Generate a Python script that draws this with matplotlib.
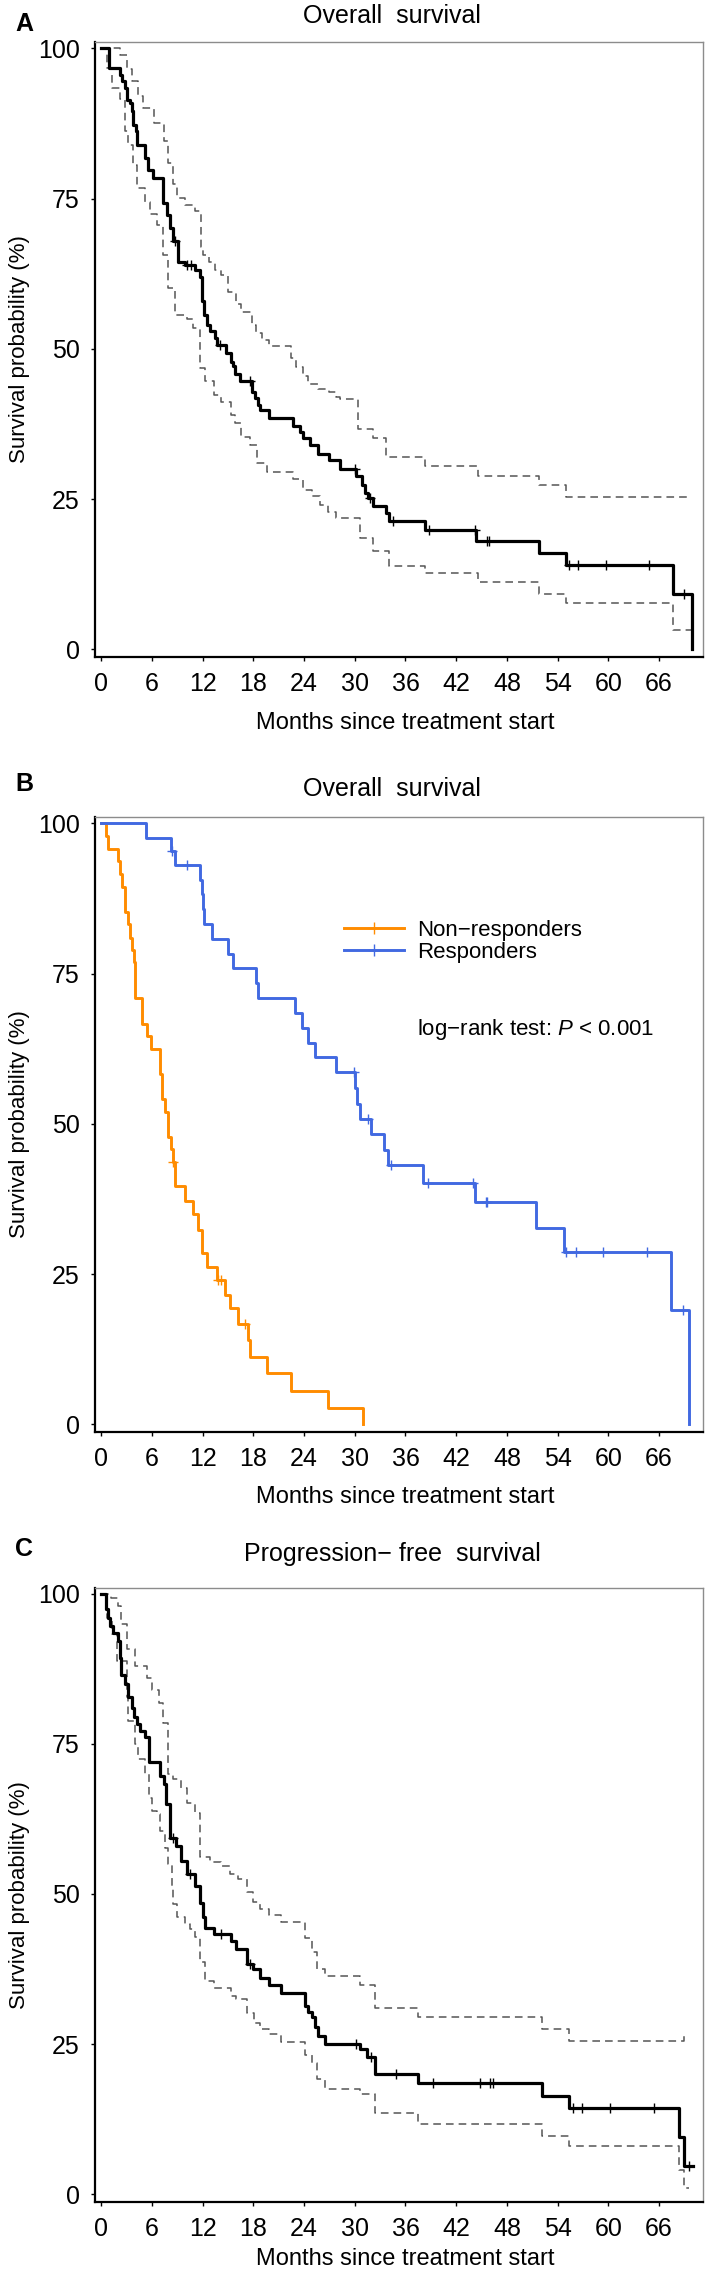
import numpy as np
import matplotlib
matplotlib.use("Agg")
import matplotlib.pyplot as plt
from matplotlib.lines import Line2D

plt.rcParams['font.family'] = ['Liberation Sans', 'DejaVu Sans']
plt.rcParams['mathtext.fontset'] = 'custom'
plt.rcParams['mathtext.rm'] = 'Liberation Sans'
plt.rcParams['mathtext.it'] = 'Liberation Sans:italic'

# ---- panel A: overall survival, all patients (months, % surviving) ----
a_t = [0, 0.93, 2.23, 2.51, 2.82, 3.02, 3.41, 3.61, 3.81, 4.08, 4.20, 5.18, 5.58, 6.17, 7.35,
       7.74, 8.14, 8.53, 9.04, 9.91, 11.09, 11.68, 11.88, 11.96, 12.19, 12.47, 12.86, 13.45, 13.65,
       14.8, 15.4, 15.6, 15.8, 16.4, 17.8, 18.2, 18.6, 18.8, 19.9, 22.7, 23.5, 23.9, 24.7, 25.7,
       27.0, 28.2, 30.2, 30.8, 31.2, 31.6, 32.2, 33.7, 34.1, 38.3, 44.4, 51.8, 55.0, 67.7, 69.9]
a_s = [100, 96.7, 95.6, 94.5, 93.4, 91.4, 90.9, 89.5, 87.3, 86.2, 83.9, 81.7, 79.8, 78.4, 74.2,
       72.3, 70.1, 67.9, 64.5, 64.0, 63.2, 62.0, 60.1, 57.9, 55.7, 54.0, 52.9, 51.8, 50.7,
       49.3, 47.9, 47.1, 45.9, 44.6, 42.9, 41.8, 40.7, 39.8, 38.5, 37.1, 36.2, 35.1, 34.0, 32.6,
       31.5, 30.1, 28.8, 27.4, 26.0, 25.2, 23.8, 22.7, 21.3, 19.8, 18.1, 16.0, 14.1, 9.2, 0]
a_up_t = [0, 2.2, 3.0, 3.7, 4.3, 5.0, 6.2, 7.4, 7.9, 8.5, 9.0, 9.9, 11.1, 11.8, 12.0, 12.7, 13.5,
          14.2, 15.0, 16.0, 16.6, 17.8, 18.3, 19.0, 19.9, 22.5, 23.1, 23.9, 24.5, 25.7, 27.0, 27.8,
          28.2, 30.4, 32.2, 33.7, 38.3, 44.6, 51.8, 55.0, 69.6]
a_up_s = [100, 98.9, 96.5, 94.5, 92.0, 90.0, 87.5, 84.5, 81.0, 77.5, 75.1, 73.9, 73.0, 67.0, 65.6,
          64.5, 63.2, 62.3, 59.5, 57.5, 56.2, 54.0, 52.6, 51.5, 50.4, 48.5, 47.0, 45.5, 44.2, 43.3,
          42.9, 42.0, 41.6, 36.6, 35.1, 32.1, 30.6, 28.9, 27.3, 25.3, 25.3]
a_lo_t = [0, 0.66, 1.25, 2.2, 2.8, 3.2, 3.8, 4.2, 5.2, 5.8, 6.6, 7.35, 7.9, 8.7, 10.1, 10.9, 11.7,
          12.3, 13.3, 14.2, 15.4, 15.8, 16.6, 17.6, 18.4, 19.6, 22.7, 23.9, 24.9, 25.9, 26.8, 27.8,
          30.6, 32.2, 34.1, 38.3, 44.6, 51.8, 55.0, 67.7, 69.8]
a_lo_s = [100, 96.7, 93.4, 91.5, 86.2, 83.9, 80.6, 76.7, 74.5, 72.5, 70.6, 65.6, 60.1, 55.7, 55.0,
          53.4, 46.8, 44.6, 42.3, 41.2, 39.0, 37.6, 35.4, 34.0, 31.0, 29.6, 28.4, 26.6, 25.5, 24.0,
          22.8, 21.8, 18.5, 16.3, 13.9, 12.7, 11.2, 9.3, 7.7, 3.2, 3.2]
a_cens = [8.7, 10.2, 10.6, 14.0, 17.6, 30.0, 31.8, 34.5, 38.8, 44.2, 45.6, 45.9, 55.3, 56.4,
          59.7, 64.8, 69.0]

# ---- panel B: responders vs non-responders ----
resp_t = [0, 5.3, 8.3, 8.7, 11.7, 11.9, 12.1, 12.2, 13.1, 15.0, 15.6, 18.3, 18.6, 22.9, 23.8,
          24.5, 25.3, 27.8, 30.0, 30.3, 30.6, 31.9, 33.5, 33.9, 38.1, 44.2, 51.4, 54.8, 67.4, 69.6]
resp_s = [100, 97.6, 95.4, 93.1, 90.6, 88.2, 85.7, 83.2, 80.8, 78.3, 75.9, 73.4, 70.9, 68.5, 66.0,
          63.5, 61.1, 58.6, 56.0, 53.4, 50.9, 48.3, 45.7, 43.1, 40.2, 37.0, 32.7, 28.7, 19.1, 0]
resp_cens = [8.4, 10.2, 29.9, 31.6, 34.3, 38.7, 44.0, 45.5, 45.7, 55.0, 56.2, 59.4, 64.6, 68.8]

nonresp_t = [0, 0.6, 0.8, 2.0, 2.2, 2.5, 2.8, 3.2, 3.4, 3.6, 3.9, 4.0, 4.8, 5.4, 5.9, 7.0, 7.2,
             7.55, 7.9, 8.3, 8.45, 8.7, 9.9, 10.9, 11.5, 11.9, 12.5, 13.65, 14.6, 15.2, 16.2, 17.4,
             17.6, 19.6, 22.5, 26.8, 31.0]
nonresp_s = [100, 97.9, 95.8, 93.8, 91.6, 89.5, 85.3, 83.2, 81.0, 79.0, 77.0, 70.9, 66.7, 64.6,
             62.5, 58.3, 54.2, 52.0, 47.9, 45.8, 43.7, 39.6, 37.1, 35.1, 32.4, 28.5, 26.2, 24.0,
             21.5, 19.3, 16.8, 14.1, 11.3, 8.5, 5.6, 2.7, 0]
nonresp_cens = [8.5, 13.8, 14.2, 17.0]

# ---- panel C: progression-free survival ----
c_t = [0, 0.6, 0.85, 1.05, 1.45, 2.04, 2.23, 2.4, 2.8, 3.2, 3.6, 3.9, 4.2, 4.6, 5.2, 5.6, 6.96,
       7.4, 7.7, 8.1, 8.9, 9.5, 10.1, 11.1, 11.7, 12.0, 12.3, 13.4, 15.4, 16.0, 17.2, 18.0, 18.8,
       19.9, 21.3, 24.1, 24.5, 24.9, 25.3, 25.7, 26.5, 30.6, 31.4, 32.4, 37.5, 52.2, 55.4, 68.4,
       68.9, 70.0]
c_s = [100, 97.5, 96.0, 94.6, 93.5, 92.1, 89.3, 86.5, 84.9, 82.7, 81.0, 79.4, 78.3, 77.2, 76.1,
       71.9, 69.7, 68.3, 65.0, 59.4, 58.0, 55.5, 53.3, 51.4, 48.5, 46.1, 44.4, 43.3, 42.2, 40.8,
       38.3, 37.5, 36.1, 34.9, 33.6, 31.4, 30.4, 29.5, 27.8, 26.4, 25.1, 24.2, 22.8, 20.0, 18.5,
       16.4, 14.4, 9.6, 4.8, 4.8]
c_up_t = [0, 1.2, 2.0, 2.4, 3.0, 4.0, 5.4, 6.0, 6.9, 7.3, 7.9, 8.5, 9.5, 10.1, 11.1, 11.7, 12.9,
          14.2, 15.2, 16.2, 17.2, 18.0, 18.8, 19.9, 21.3, 24.1, 24.9, 25.5, 26.5, 30.6, 32.4, 37.5,
          52.2, 55.4, 68.9, 69.0]
c_up_s = [100, 99.2, 98.0, 95.0, 90.8, 88.0, 86.0, 84.0, 81.8, 78.5, 70.0, 69.2, 67.6, 65.2, 63.4,
          56.1, 55.4, 54.7, 53.3, 52.5, 50.4, 48.6, 47.5, 46.5, 45.3, 42.7, 40.3, 37.5, 36.4, 34.9,
          31.0, 29.5, 27.5, 25.6, 26.4, 26.4]
c_lo_t = [0, 0.66, 1.25, 1.84, 3.0, 3.2, 4.0, 4.4, 5.2, 5.6, 6.0, 6.6, 7.0, 7.55, 7.94, 8.33, 8.53,
          8.92, 9.9, 10.5, 11.1, 11.7, 12.3, 13.4, 15.4, 16.0, 17.2, 18.1, 18.8, 19.9, 21.3, 24.1,
          24.9, 25.5, 26.5, 30.6, 32.4, 37.5, 52.2, 55.4, 68.4, 68.9, 69.5]
c_lo_s = [100, 96.0, 93.2, 88.8, 82.7, 78.8, 74.9, 72.5, 70.0, 66.0, 63.8, 63.3, 60.5, 57.7, 55.0,
          51.1, 48.3, 46.1, 45.0, 44.2, 42.8, 38.7, 35.6, 34.4, 33.1, 32.5, 30.2, 28.6, 27.5, 26.7,
          25.3, 23.2, 21.8, 19.2, 17.5, 16.7, 13.5, 11.7, 9.8, 8.1, 4.0, 1.0, 1.0]
c_cens = [8.5, 10.5, 14.2, 17.6, 30.2, 31.9, 34.9, 39.2, 44.8, 46.0, 46.3, 55.8, 56.9, 60.2,
          65.4, 69.6]

x_ticks = list(range(0, 67, 6))
y_ticks = [0, 25, 50, 75, 100]
MINUS = '\u2212'

W, H = 709, 2282
fig = plt.figure(figsize=(W / 100, H / 100), dpi=100)


def fx(x):
    return x / W


def fy(y):
    return 1 - y / H


def step(ax, t, s, **kw):
    ax.step(t, s, where='post', **kw)


def censor(ax, t, s, cens, color):
    idx = np.searchsorted(t, cens, side='right') - 1
    ax.plot(cens, np.array(s)[idx], ls='none', marker='+', ms=7.5, mew=1.0, color=color)


def panel(top, bottom, letter, title, title_y, letter_y, xlab_y):
    ax = fig.add_axes([fx(95), fy(bottom), fx(703 - 95), (bottom - top) / H])
    ax.set_xlim(-0.73, 71.2)
    ax.set_ylim(-1.2, 101.0)
    ax.set_xticks(x_ticks)
    ax.set_yticks(y_ticks)
    ax.tick_params(labelsize=18, length=3, width=1, pad=8)
    for side in ['top', 'right']:
        ax.spines[side].set_color('#8c8c8c')
        ax.spines[side].set_linewidth(1.0)
    for side in ['left', 'bottom']:
        ax.spines[side].set_linewidth(1.6)
    mid = (top + bottom) / 2
    fig.text(fx(20), fy(mid), 'Survival probability (%)', rotation=90,
             ha='center', va='center', fontsize=16)
    fig.text(fx(405), fy(xlab_y), 'Months since treatment start',
             ha='center', va='center', fontsize=17)
    fig.text(fx(392), fy(title_y), title, ha='center', va='center', fontsize=18)
    fig.text(fx(24), fy(letter_y), letter, ha='center', va='center',
             fontsize=18, fontweight='bold')
    return ax


dash = (0, (5, 3.3))
grey = '#555555'

# A
ax = panel(42.3, 656.7, 'A', 'Overall  survival', 16, 24, 723)
step(ax, a_up_t, a_up_s, color=grey, lw=1.1, ls=dash)
step(ax, a_lo_t, a_lo_s, color=grey, lw=1.1, ls=dash)
step(ax, a_t, a_s, color='black', lw=2.3)
censor(ax, a_t, a_s, a_cens, 'black')

# B
ax = panel(817.4, 1431.7, 'B', 'Overall  survival', 789, 784, 1497)
orange = '#FF8C00'
blue = '#4169E1'
step(ax, nonresp_t, nonresp_s, color=orange, lw=2.1)
step(ax, resp_t, resp_s, color=blue, lw=2.1)
censor(ax, nonresp_t, nonresp_s, nonresp_cens, orange)
censor(ax, resp_t, resp_s, resp_cens, blue)
handles = [Line2D([], [], color=orange, lw=2.1, marker='+', ms=9, mew=1.0),
           Line2D([], [], color=blue, lw=2.1, marker='+', ms=9, mew=1.0)]
ax.legend(handles, ['Non' + MINUS + 'responders', 'Responders'], loc='upper left',
          bbox_to_anchor=((344 - 95) / 608, (1431.7 - 920) / 614.3), frameon=False,
          fontsize=16, handlelength=2.7, handletextpad=0.6, labelspacing=0.05,
          borderpad=0, borderaxespad=0, markerfirst=True)
ax.text((417 - 95) / 608, (1431.7 - 1030) / 614.3,
        'log' + MINUS + 'rank test: $\\mathit{P}$ < 0.001',
        transform=ax.transAxes, ha='left', va='center', fontsize=16)

# C
ax = panel(1587.5, 2201.7, 'C', 'Progression' + MINUS + ' free  survival', 1554, 1549, 2259)
step(ax, c_up_t, c_up_s, color=grey, lw=1.1, ls=dash)
step(ax, c_lo_t, c_lo_s, color=grey, lw=1.1, ls=dash)
step(ax, c_t, c_s, color='black', lw=2.3)
censor(ax, c_t, c_s, c_cens, 'black')

fig.savefig('out.png', dpi=100)
